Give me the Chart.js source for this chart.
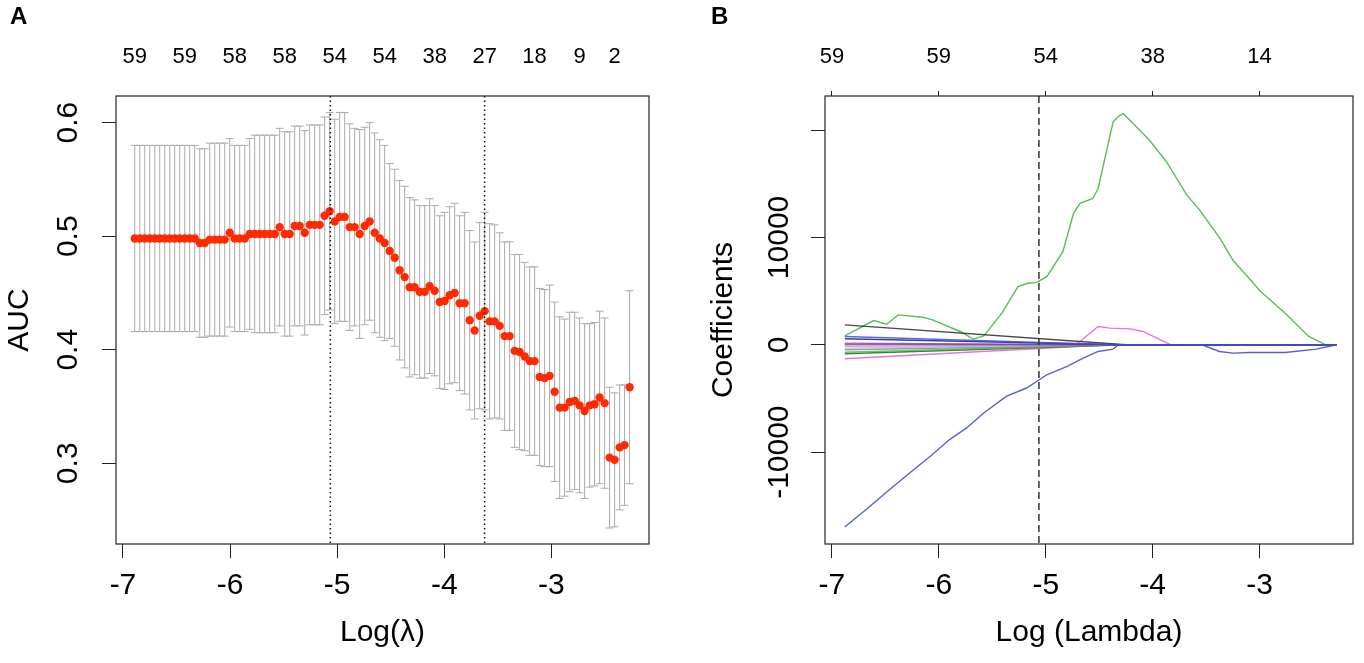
<!DOCTYPE html>
<html>
<head>
<meta charset="utf-8">
<script src="https://cdn.jsdelivr.net/npm/chart.js@4.4.1/dist/chart.umd.min.js"></script>
<style>
  body { margin: 0; background: #fff; width: 1364px; height: 663px; overflow: hidden; position: relative; }
  .panel { position: absolute; top: 0; width: 682px; height: 663px; }
  #panelA { left: 0; }
  #panelB { left: 682px; }
  .tag { position: absolute; top: 0; font: bold 24px "Liberation Sans", Arial, sans-serif; line-height: 32px; color: #000; }
</style>
</head>
<body>
<div class="panel" id="panelA"><canvas id="cvA" width="682" height="663"></canvas></div>
<div class="panel" id="panelB"><canvas id="cvB" width="682" height="663"></canvas></div>
<div class="tag" style="left:10px">A</div>
<div class="tag" style="left:711px">B</div>
<script>
// ---- panel A: cross-validated AUC ----
const logLambda = [
  -6.890, -6.843, -6.797, -6.750, -6.703, -6.657, -6.610, -6.563, -6.517, -6.470,
  -6.423, -6.377, -6.330, -6.283, -6.237, -6.190, -6.143, -6.097, -6.050, -6.003,
  -5.957, -5.910, -5.863, -5.817, -5.770, -5.723, -5.677, -5.630, -5.583, -5.537,
  -5.490, -5.443, -5.397, -5.350, -5.303, -5.257, -5.210, -5.163, -5.117, -5.070,
  -5.023, -4.977, -4.930, -4.883, -4.837, -4.790, -4.743, -4.697, -4.650, -4.603,
  -4.557, -4.510, -4.463, -4.417, -4.370, -4.323, -4.277, -4.230, -4.183, -4.137,
  -4.090, -4.043, -3.997, -3.950, -3.903, -3.857, -3.810, -3.763, -3.717, -3.670,
  -3.623, -3.577, -3.530, -3.483, -3.437, -3.390, -3.343, -3.297, -3.250, -3.203,
  -3.157, -3.110, -3.063, -3.017, -2.970, -2.923, -2.877, -2.830, -2.783, -2.737,
  -2.690, -2.643, -2.597, -2.550, -2.503, -2.457, -2.410, -2.363, -2.317, -2.270
];
const aucMean = [
  0.498, 0.498, 0.498, 0.498, 0.498, 0.498, 0.498, 0.498, 0.498, 0.498,
  0.498, 0.498, 0.498, 0.494, 0.494, 0.497, 0.497, 0.497, 0.497, 0.503,
  0.498, 0.498, 0.498, 0.502, 0.502, 0.502, 0.502, 0.502, 0.502, 0.508,
  0.502, 0.502, 0.509, 0.509, 0.503, 0.510, 0.510, 0.510, 0.518, 0.522,
  0.513, 0.517, 0.517, 0.508, 0.508, 0.502, 0.509, 0.513, 0.503, 0.498,
  0.494, 0.487, 0.481, 0.470, 0.464, 0.455, 0.455, 0.451, 0.451, 0.456,
  0.452, 0.442, 0.443, 0.448, 0.450, 0.441, 0.441, 0.426, 0.417, 0.430,
  0.434, 0.425, 0.425, 0.421, 0.412, 0.412, 0.399, 0.398, 0.394, 0.390,
  0.390, 0.376, 0.375, 0.377, 0.363, 0.349, 0.349, 0.354, 0.355, 0.351,
  0.346, 0.351, 0.352, 0.358, 0.353, 0.305, 0.303, 0.314, 0.316, 0.367
];
const aucSd = [
  0.082, 0.082, 0.082, 0.082, 0.082, 0.082, 0.082, 0.082, 0.082, 0.082,
  0.082, 0.082, 0.082, 0.083, 0.083, 0.085, 0.085, 0.085, 0.085, 0.083,
  0.082, 0.082, 0.082, 0.084, 0.087, 0.087, 0.087, 0.087, 0.087, 0.087,
  0.090, 0.090, 0.088, 0.088, 0.090, 0.088, 0.088, 0.088, 0.087, 0.087,
  0.090, 0.092, 0.092, 0.091, 0.087, 0.092, 0.087, 0.087, 0.088, 0.087,
  0.086, 0.077, 0.078, 0.079, 0.080, 0.079, 0.077, 0.076, 0.076, 0.077,
  0.075, 0.076, 0.078, 0.078, 0.079, 0.077, 0.080, 0.079, 0.078, 0.082,
  0.087, 0.086, 0.085, 0.082, 0.083, 0.083, 0.085, 0.086, 0.083, 0.083,
  0.083, 0.078, 0.078, 0.080, 0.079, 0.080, 0.078, 0.079, 0.078, 0.077,
  0.077, 0.072, 0.072, 0.076, 0.075, 0.062, 0.059, 0.055, 0.053, 0.085
];
const lambdaMarks = [-5.064, -3.624];            // lambda.min, lambda.1se
const nzeroPosA = [-6.89, -6.423, -5.957, -5.49, -5.023, -4.557, -4.09, -3.623, -3.157, -2.737, -2.41];
const nzeroA = ['59', '59', '58', '58', '54', '54', '38', '27', '18', '9', '2'];
const xTicks = [-7, -6, -5, -4, -3];
const aucTicks = [0.3, 0.4, 0.5, 0.6];
const aucTickLabels = ['0.3', '0.4', '0.5', '0.6'];

// ---- panel B: coefficient paths ----
const greenX = [-6.88, -6.61, -6.49, -6.38, -6.15, -6.06, -5.80, -5.68, -5.58, -5.41, -5.26, -5.17, -5.09,
  -4.99, -4.84, -4.74, -4.68, -4.56, -4.51, -4.37, -4.32, -4.275, -4.18, -4.03, -3.87, -3.68, -3.56,
  -3.37, -3.25, -2.99, -2.76, -2.54, -2.38, -2.28];
const greenY = [836, 2260, 1920, 2790, 2570, 2320, 1240, 530, 836, 2943, 5420, 5730, 5790,
  6350, 8670, 12240, 13170, 13630, 14560, 20760, 21280, 21530, 20600, 19050, 17040, 13940, 12550,
  9920, 7900, 4960, 2945, 775, 0, 0];
const blueX = [-6.88, -6.68, -6.46, -6.27, -6.08, -5.90, -5.74, -5.58, -5.37, -5.18, -4.99, -4.80,
  -4.65, -4.51, -4.37, -4.32, -3.54, -3.375, -3.25, -3.09, -2.76, -2.47, -2.28];
const blueY = [-16980, -15335, -13476, -11925, -10380, -8830, -7745, -6350, -4800, -4025, -2790, -2015,
  -1240, -620, -400, 0, 0, -620, -775, -713, -713, -403, 0];
const blackX = [-6.88, -4.25, -2.28];
const blackY = [1860, 0, 0];
const magentaX = [-6.88, -4.73, -4.68, -4.51, -4.40, -4.21, -4.09, -3.96, -3.83, -2.28];
const magentaY = [0, 0, 310, 1700, 1550, 1487, 1240, 620, 0, 0];
// small coefficients: value at the left end and where each reaches zero
const smallStart = [775, 560, 155, 60, -150, -310, -465, -700, -840, -1300];
const smallZeroAt = [-4.35, -4.30, -4.50, -4.60, -4.60, -4.40, -4.20, -4.30, -4.25, -4.40];
const smallColors = ['rgba(60,80,220,0.85)', 'rgba(30,40,150,0.9)', 'rgba(140,60,180,0.8)', 'rgba(200,50,60,0.7)',
  'rgba(60,190,210,0.7)', 'rgba(240,150,240,0.8)', 'rgba(130,130,130,0.8)', 'rgba(70,190,70,0.85)',
  'rgba(30,120,30,0.9)', 'rgba(225,90,225,0.85)'];
const pathStart = -6.88, pathEnd = -2.28;
const coefTicks = [-10000, 0, 10000, 20000];
const coefTickLabels = ['-10000', '0', '10000', ''];
const nzeroB = ['59', '59', '54', '38', '14'];

Chart.defaults.font.family = '"Liberation Sans", Arial, Helvetica, sans-serif';
Chart.defaults.color = '#000';

const frame = {
  id: 'frame',
  afterDraw(chart) {
    const a = chart.chartArea, ctx = chart.ctx;
    ctx.save();
    ctx.strokeStyle = '#222';
    ctx.lineWidth = 1.2;
    ctx.strokeRect(a.left, a.top, a.right - a.left, a.bottom - a.top);
    ctx.restore();
  }
};

// y tick labels turned 90 degrees, the way R draws them
function sideLabels(values, labels, gap) {
  return {
    id: 'sideLabels',
    afterDraw(chart) {
      const ctx = chart.ctx, y = chart.scales.y;
      ctx.save();
      ctx.font = '30px "Liberation Sans", Arial, sans-serif';
      ctx.fillStyle = '#000';
      ctx.textAlign = 'center';
      ctx.textBaseline = 'middle';
      values.forEach((v, i) => {
        ctx.save();
        ctx.translate(chart.chartArea.left - gap, y.getPixelForValue(v));
        ctx.rotate(-Math.PI / 2);
        ctx.fillText(labels[i], 0, 0);
        ctx.restore();
      });
      ctx.restore();
    }
  };
}

function vLines(values, dash, width, color) {
  return {
    id: 'vLines',
    afterDatasetsDraw(chart) {
      const ctx = chart.ctx, x = chart.scales.x, a = chart.chartArea;
      ctx.save();
      ctx.strokeStyle = color;
      ctx.lineWidth = width;
      ctx.setLineDash(dash);
      values.forEach(v => {
        const px = x.getPixelForValue(v);
        ctx.beginPath();
        ctx.moveTo(px, a.top);
        ctx.lineTo(px, a.bottom);
        ctx.stroke();
      });
      ctx.restore();
    }
  };
}

const errorBars = {
  id: 'errorBars',
  beforeDatasetsDraw(chart) {
    const ctx = chart.ctx, x = chart.scales.x, y = chart.scales.y;
    const half = (logLambda[logLambda.length - 1] - logLambda[0]) * 0.008;
    ctx.save();
    ctx.strokeStyle = '#aaaaaa';
    ctx.lineWidth = 1;
    logLambda.forEach((v, i) => {
      const px = x.getPixelForValue(v);
      const l = x.getPixelForValue(v - half), r = x.getPixelForValue(v + half);
      const up = y.getPixelForValue(aucMean[i] + aucSd[i]);
      const lo = y.getPixelForValue(aucMean[i] - aucSd[i]);
      ctx.beginPath();
      ctx.moveTo(px, up); ctx.lineTo(px, lo);
      ctx.moveTo(l, up); ctx.lineTo(r, up);
      ctx.moveTo(l, lo); ctx.lineTo(r, lo);
      ctx.stroke();
    });
    ctx.restore();
  }
};

function bottomAxis(min, max, title, titlePad) {
  return {
    type: 'linear', position: 'bottom', min, max,
    afterBuildTicks: s => { s.ticks = xTicks.map(v => ({ value: v })); },
    ticks: { font: { size: 30 }, padding: 10, maxRotation: 0, autoSkip: false, callback: v => String(v) },
    grid: { drawOnChartArea: false, color: '#222', tickLength: 14 },
    border: { display: false },
    title: { display: true, text: title, font: { size: 30 }, padding: { top: 0, bottom: titlePad } },
    afterFit: s => { s.height = 119; }
  };
}

new Chart(document.getElementById('cvA'), {
  type: 'scatter',
  data: {
    datasets: [{
      data: logLambda.map((v, i) => ({ x: v, y: aucMean[i] })),
      pointRadius: 4.2,
      pointHoverRadius: 4.2,
      backgroundColor: '#ff2a00',
      borderWidth: 0
    }]
  },
  options: {
    responsive: false,
    animation: false,
    layout: { padding: { left: 0, right: 33, top: 0, bottom: 0 } },
    plugins: { legend: { display: false }, tooltip: { enabled: false } },
    scales: {
      x: bottomAxis(-7.065, -2.089, 'Log(\u03bb)', 12),
      x2: {
        type: 'linear', axis: 'x', position: 'top', min: -7.065, max: -2.089,
        afterBuildTicks: s => { s.ticks = nzeroPosA.map(v => ({ value: v })); },
        ticks: { font: { size: 22 }, padding: 26, maxRotation: 0, autoSkip: false, callback: (v, i) => nzeroA[i] },
        grid: { display: false, drawTicks: false },
        border: { display: false },
        afterFit: s => { s.height = 96; }
      },
      y: {
        min: 0.2289, max: 0.6235,
        afterBuildTicks: s => { s.ticks = aucTicks.map(v => ({ value: v })); },
        ticks: { display: false },
        grid: { drawOnChartArea: false, color: '#222', tickLength: 14 },
        border: { display: false },
        title: { display: true, text: 'AUC', font: { size: 30 }, padding: { top: 2, bottom: 0 } },
        afterFit: s => { s.width = 116; }
      }
    }
  },
  plugins: [errorBars, vLines(lambdaMarks, [1.5, 3], 1.5, '#111'), frame, sideLabels(aucTicks, aucTickLabels, 47)]
});

const pathSets = [];
smallStart.forEach((v, i) => {
  pathSets.push({ data: [{ x: pathStart, y: v }, { x: smallZeroAt[i], y: 0 }, { x: pathEnd, y: 0 }], borderColor: smallColors[i] });
});
pathSets.push({ data: blackX.map((v, i) => ({ x: v, y: blackY[i] })), borderColor: 'rgba(40,40,40,0.85)' });
pathSets.push({ data: magentaX.map((v, i) => ({ x: v, y: magentaY[i] })), borderColor: 'rgba(230,95,230,0.9)' });
pathSets.push({ data: blueX.map((v, i) => ({ x: v, y: blueY[i] })), borderColor: 'rgba(65,80,205,0.9)' });
pathSets.push({ data: greenX.map((v, i) => ({ x: v, y: greenY[i] })), borderColor: 'rgba(65,185,65,0.9)' });
pathSets.forEach(d => { d.borderWidth = 1.4; d.pointRadius = 0; d.tension = 0; d.fill = false; });

new Chart(document.getElementById('cvB'), {
  type: 'line',
  data: { datasets: pathSets },
  options: {
    responsive: false,
    animation: false,
    layout: { padding: { left: 0, right: 11, top: 0, bottom: 0 } },
    plugins: { legend: { display: false }, tooltip: { enabled: false } },
    scales: {
      x: bottomAxis(-7.065, -2.126, 'Log (Lambda)', 12),
      x2: {
        type: 'linear', axis: 'x', position: 'top', min: -7.065, max: -2.126,
        afterBuildTicks: s => { s.ticks = xTicks.map(v => ({ value: v })); },
        ticks: { font: { size: 22 }, padding: 21, maxRotation: 0, autoSkip: false, callback: (v, i) => nzeroB[i] },
        grid: { drawOnChartArea: false, color: '#222', tickLength: 5 },
        border: { display: false },
        afterFit: s => { s.height = 96; }
      },
      y: {
        min: -18556, max: 23177,
        afterBuildTicks: s => { s.ticks = coefTicks.map(v => ({ value: v })); },
        ticks: { display: false },
        grid: { drawOnChartArea: false, color: '#222', tickLength: 14 },
        border: { display: false },
        title: { display: true, text: 'Coefficients', font: { size: 30 }, padding: { top: 24, bottom: 0 } },
        afterFit: s => { s.width = 143; }
      }
    }
  },
  plugins: [vLines([-5.064], [7, 4], 1.5, '#333'), frame, sideLabels(coefTicks, coefTickLabels, 45)]
});
</script>
</body>
</html>
